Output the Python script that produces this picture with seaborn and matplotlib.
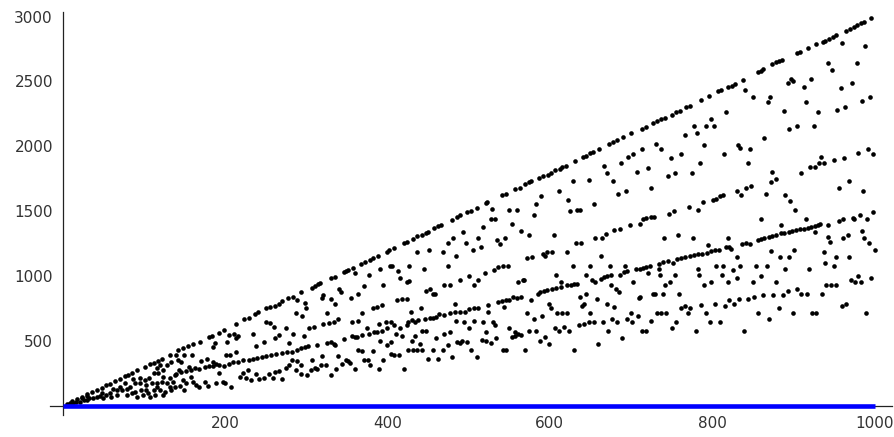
import matplotlib
matplotlib.use('Agg')
import matplotlib.pyplot as plt
import seaborn as sns
import pandas as pd
from matplotlib.ticker import MultipleLocator

# points on the top line (about 3n)
top_x = [12, 18, 24, 30, 36, 42, 48, 54, 58, 64, 71, 77, 81, 85, 92, 102, 108, 112, 117, 122, 132,
         142, 148, 154, 160, 169, 180, 184, 192, 199, 213, 224, 229, 237, 241, 250, 256, 261, 266, 270, 277,
         294, 307, 311, 315, 317, 331, 335, 346, 349, 352, 358, 367, 372, 378, 382, 388, 399, 402, 408, 420, 424,
         432, 437, 442, 447, 450, 457, 462, 466, 479, 486, 490, 498, 503, 510, 522, 523, 541, 546, 557, 563,
         570, 574, 577, 587, 592, 598, 602, 607, 613, 615, 620, 631, 641, 644, 649, 653, 660, 673, 678, 683, 690, 700,
         713, 718, 727, 732, 737, 742, 750, 755, 760, 768, 773, 786, 796, 807, 811, 820, 824, 828, 838,
         856, 860, 863, 874, 879, 882, 886, 905, 908, 918, 928, 936, 939, 944, 949, 952, 965, 970, 974, 978, 983, 987, 996]
top_y = [36, 54, 72, 90, 105, 124, 142, 160, 172, 190, 211, 229, 241, 253, 274, 303, 322, 334, 348, 364, 394,
         430, 448, 461, 474, 494, 528, 541, 564, 584, 628, 666, 679, 712, 725, 751, 763, 771, 789, 807, 828,
         874, 912, 927, 940, 950, 984, 997, 1030, 1040, 1048, 1066, 1094, 1112, 1125, 1138, 1155, 1189, 1202, 1220, 1253, 1266,
         1289, 1307, 1319, 1332, 1340, 1371, 1383, 1391, 1430, 1455, 1468, 1494, 1504, 1524, 1563, 1571, 1622, 1635, 1668, 1681,
         1712, 1724, 1732, 1758, 1768, 1781, 1793, 1814, 1827, 1840, 1852, 1886, 1916, 1927, 1947, 1960, 1980, 2019, 2032, 2045, 2070, 2101,
         2134, 2152, 2178, 2193, 2211, 2219, 2244, 2262, 2275, 2301, 2313, 2357, 2385, 2424, 2434, 2454, 2467, 2480, 2513,
         2570, 2583, 2595, 2634, 2647, 2654, 2665, 2716, 2726, 2754, 2785, 2803, 2813, 2828, 2844, 2857, 2890, 2905, 2916, 2933, 2949, 2954, 2987]

# n from 0 to 140
part1_x = [116, 120, 124, 129, 134, 112, 118, 124, 132, 138, 95, 101, 107, 89, 95, 103, 110, 116, 122, 128, 136,
           132, 138, 120, 126, 112, 103, 97, 89, 83, 79, 73, 67, 67, 58, 60, 54, 50, 46, 42, 38, 33, 30, 26, 21,
           17, 13, 9, 5, 24, 30, 79, 85, 91, 99, 105, 114, 116, 87, 71, 77, 62, 48, 108, 124, 134]
part1_y = [290, 315, 277, 315, 341, 251, 251, 225, 213, 238, 213, 200, 213, 174, 174, 161, 174, 179, 187, 174, 187,
           149, 149, 123, 110, 123, 123, 123, 110, 149, 128, 123, 123, 85, 97, 72, 85, 59, 77, 72, 59, 59, 46, 46, 33,
           33, 26, 21, 15, 59, 77, 85, 97, 72, 85, 97, 85, 149, 205, 149, 179, 128, 97, 67, 85, 123]

# n from 140 to 285
part2_x = [211, 235, 250, 255, 260, 275, 185, 205, 203, 214, 216, 238, 248, 262, 267, 279, 188, 150, 159, 201, 206,
           213, 140, 142, 146, 170, 178, 185, 189,
           140, 146, 152, 158, 163, 168, 175, 180, 185, 193, 199, 205, 210, 216, 222, 229, 235, 240, 245, 250, 257,
           263, 270, 276,
           143, 156, 158, 148, 152, 160, 164, 175, 179, 193, 197, 200, 207, 218, 222, 226, 228, 232, 238, 242, 248,
           254, 259, 262, 267, 270, 275, 279, 149, 168, 189, 145]
part2_y = [558, 551, 648, 640, 610, 597, 456, 546, 494, 520, 541, 461, 494, 525, 546, 482, 482, 392, 392, 392, 392,
           418, 392, 354, 341, 346, 361, 341, 320,
           243, 259, 269, 277, 290, 284, 302, 307, 307, 315, 307, 323, 336, 341, 354, 354, 361, 366, 379, 384, 392,
           397, 405, 418,
           277, 302, 225, 200, 174, 187, 161, 187, 156, 251, 187, 174, 149, 225, 251, 218, 277, 200, 243, 205, 213,
           243, 218, 259, 269, 205, 290, 315, 123, 149, 174, 156]

# n from 285 to 425
part3_x = [284, 289, 360, 391, 403, 406, 413, 377, 415, 424, 340, 343, 321, 319, 330, 355, 364, 395, 371, 299, 300,
           335, 287, 295, 326, 382, 387, 393, 412, 418, 424, 356, 364, 369, 321, 328, 334, 339, 303, 309, 284, 297,
           375, 390, 398, 404, 408, 415, 424,
           283, 289, 294, 299, 302, 313, 326, 330, 334, 346, 356, 360, 369, 377, 383, 387, 393, 399,
           362, 410, 418, 283, 289, 293, 307, 311, 320, 324, 336, 339, 344, 349, 352, 354, 364, 369, 371, 376, 382,
           379, 391, 395, 399, 405, 405, 408, 414, 287, 294, 301, 306, 313, 318, 331, 337, 360, 390, 420]
part3_y = [843, 817, 1022, 1056, 1079, 1079, 1040, 1009, 984, 958, 902, 881, 856, 835, 825, 835, 861, 933, 927, 792, 753,
           787, 715, 694, 715, 753, 766, 779, 817, 825, 825, 646, 656, 715, 633, 638, 643, 671, 600, 607, 553, 535,
           600, 630, 646, 646, 625, 600, 625,
           415, 428, 446, 451, 459, 466, 484, 492, 477, 518, 535, 530, 543, 553, 569, 569, 574, 600,
           528, 553, 535, 356, 343, 318, 356, 292, 382, 318, 471, 382, 323, 356, 343, 330, 433, 425, 356, 356, 420,
           318, 502, 356, 471, 489, 400, 389, 389, 279, 249, 241, 279, 284, 318, 241, 284, 284, 284, 284]

# n from 425 to 570
part4_x = [529, 550, 559, 527, 533, 518, 493, 553, 565, 481, 474, 497, 511, 535, 539, 545, 515, 505, 437, 451, 468,
           485, 427, 445, 475,
           520, 531, 536, 542, 548, 561, 567, 427, 470, 477, 489, 501, 507, 512, 447, 453, 456, 459,
           425, 430, 434, 438, 446, 452, 456, 460, 464, 470, 477, 483, 489, 495, 501, 507, 512, 524, 536, 541, 546,
           550, 555, 559, 564,
           483, 441, 544, 524, 429, 484, 494, 507, 518, 530, 533, 500, 521, 477, 470, 460, 442, 447, 434, 430, 440,
           486, 489, 492, 498, 475, 516, 522, 527, 534, 550, 557, 561, 553, 557, 565, 425, 432, 437, 442, 456, 468,
           503, 542, 546, 450, 462, 480, 510]
part4_y = [1519, 1511, 1511, 1437, 1437, 1378, 1340, 1404, 1345, 1294, 1258, 1258, 1296, 1276, 1250, 1296, 1225, 1199, 1186, 1199, 1186,
           1153, 1079, 1053, 1079,
           1027, 1045, 1071, 1079, 1079, 955, 968, 961, 935, 935, 968, 999, 935, 968, 884, 899, 866, 866,
           648, 661, 648, 661, 669, 674, 679, 687, 705, 699, 717, 720, 720, 720, 745, 756, 758, 776, 797, 807, 815,
           815, 840, 833, 840,
           789, 756, 763, 720, 725, 656, 648, 656, 648, 648, 627, 597, 571, 571, 551, 525, 576, 576, 540, 502, 476,
           494, 481, 502, 494, 469, 507, 502, 481, 525, 597, 571, 558, 528, 538, 546, 430, 430, 430, 430, 430, 430,
           430, 430, 430, 359, 359, 379, 379]

# n from 570 to 710
part5_x = [667, 671, 688, 696, 703, 707, 629, 648, 678, 611, 589, 684, 694, 583, 581, 623, 625, 634, 637, 654, 574,
           605, 632, 639,
           656, 664, 669, 679, 687, 699, 572, 578, 591, 594, 597, 603, 621, 663,
           585, 588, 593, 597, 603, 608, 614, 621, 626, 630, 634, 645, 652, 656, 663, 667, 671, 675, 687, 691, 695, 706,
           628, 650, 674, 693, 608, 568, 703, 710, 614, 675, 681, 685, 577, 599, 601, 637, 644, 642, 640, 658, 670,
           679, 572, 609, 615, 621, 650, 580, 590, 636, 642, 648, 654, 666, 677, 683, 695, 700, 701, 708, 574, 583,
           606, 611, 617, 624, 672, 588, 594, 599, 570, 630, 659, 689]
part5_y = [1852, 1796, 1870, 1916, 1942, 1801, 1729, 1737, 1729, 1655, 1617, 1630, 1655, 1558, 1473, 1583, 1501, 1512, 1512, 1558, 1314,
           1314, 1255, 1255,
           1294, 1294, 1327, 1353, 1366, 1391, 1143, 1148, 1173, 1153, 1186, 1186, 1186, 1153,
           866, 879, 884, 892, 897, 905, 917, 930, 935, 938, 943, 1007, 968, 956, 981, 994, 999, 1007, 1007, 1033, 1040, 1058,
           1079, 1079, 1079, 1079, 1007, 974, 956, 835, 951, 935, 897, 879, 815, 789, 756, 840, 861, 789, 769, 822, 789,
           763, 717, 717, 717, 717, 717, 668, 694, 622, 635, 648, 648, 648, 668, 648, 668, 717, 648, 694, 576, 576,
           597, 576, 610, 576, 576, 502, 533, 477, 430, 430, 477, 525]

# n from 710 to 855
part6_x = [840, 850, 817, 778, 798, 792, 802, 766, 781, 731, 737, 713, 790, 832, 834, 846, 762, 749, 814, 721, 785,
           844, 745, 754, 775, 725,
           711, 715, 719, 724, 728, 747, 753, 771, 783, 789, 801, 805, 809, 813, 830, 836, 841, 848,
           741, 758, 776, 819, 795, 817, 823, 830,
           711, 715, 719, 723, 734, 740, 746, 752, 757, 762, 766, 773, 777, 782, 788, 793, 798, 803, 808, 821, 837,
           842, 847,
           721, 735, 736, 742, 748, 754, 782, 784, 790, 799, 805, 813, 812, 820, 826, 830, 834, 850, 854, 711, 727,
           729, 740, 759, 732, 737, 743, 725, 761, 766, 773, 770, 786, 792, 803, 816, 821, 827, 833, 844, 852, 755,
           750, 797, 809, 713, 719, 780, 839]
part6_y = [2436, 2378, 2267, 2160, 2211, 2160, 2160, 2088, 2101, 2019, 1980, 1980, 2014, 2014, 1988, 1980, 1942, 1909, 1942, 1834, 1870,
           1870, 1775, 1796, 1796, 1678,
           1404, 1437, 1448, 1455, 1455, 1476, 1499, 1532, 1512, 1571, 1583, 1596, 1614, 1622, 1653, 1622, 1678, 1691,
           1294, 1314, 1294, 1294, 1243, 1225, 1207, 1148,
           1053, 1063, 1071, 1076, 1097, 1109, 1114, 1104, 1135, 1140, 1148, 1155, 1161, 1173, 1173, 1181, 1194, 1199, 1199, 1225, 1250,
           1255, 1250,
           1025, 1058, 1007, 930, 956, 1007, 1058, 1007, 930, 956, 1079, 1079, 1007, 956, 1045, 986, 1079, 956, 1079, 840, 861,
           861, 861, 861, 717, 717, 717, 656, 751, 769, 751, 717, 776, 717, 789, 769, 815, 789, 827, 827, 840, 648,
           597, 648, 648, 576, 576, 576, 576]

# n from 855 to 1000
part7_x = [960, 988, 942, 948, 978, 893, 897, 899, 913, 922, 959, 972, 871, 869, 916, 889, 930, 954, 964, 984, 994,
           894, 904, 925, 864,
           934, 931, 920, 926, 938, 950, 962, 980, 992, 998, 909, 874, 872, 879, 866, 890, 896, 902, 956, 968, 986,
           860, 885, 915, 942, 956, 961, 973, 975, 982, 991, 998,
           856, 860, 864, 870, 874, 878, 885, 889, 894, 898, 903, 908, 913, 918, 922, 926, 930, 933, 927,
           943, 945, 961, 967, 985, 987, 993, 1000, 872, 883, 895, 901, 938, 952, 969, 939, 950, 868, 890, 919,
           860, 879, 940, 946, 952, 971, 976, 979, 983, 995, 863, 875, 887, 893, 905, 909, 917, 935, 857, 870,
           882, 899, 923, 928, 960, 965, 989]
part7_y = [2793, 2775, 2641, 2590, 2641, 2485, 2518, 2500, 2459, 2518, 2447, 2485, 2378, 2339, 2344, 2270, 2267, 2280, 2301, 2352, 2378,
           2134, 2160, 2160, 2062,
           1916, 1870, 1840, 1840, 1870, 1896, 1909, 1947, 1980, 1942, 1796, 1801, 1724, 1750, 1635, 1622, 1578, 1512, 1678, 1729, 1655,
           1437, 1391, 1437, 1391, 1424, 1437, 1450, 1437, 1473, 1437, 1494,
           1281, 1289, 1294, 1301, 1309, 1314, 1332, 1335, 1342, 1348, 1353, 1360, 1366, 1373, 1378, 1383, 1396, 1404, 1340,
           1301, 1263, 1294, 1314, 1345, 1294, 1258, 1199, 1191, 1148, 1148, 1199, 1186, 1148, 1148, 1104, 1076, 1076, 1056, 1056,
           1002, 956, 935, 935, 935, 974, 956, 1002, 956, 986, 858, 858, 858, 886, 899, 861, 861, 861, 717, 669,
           756, 717, 717, 717, 769, 789, 717]

# the blue series along zero
zero_x = [0, 1000]
zero_y = [0, 0]

xs = top_x + part1_x + part2_x + part3_x + part4_x + part5_x + part6_x + part7_x
ys = top_y + part1_y + part2_y + part3_y + part4_y + part5_y + part6_y + part7_y
df = pd.DataFrame({'n': xs, 'a': ys})

sns.set_style('white')
plt.rcParams['font.family'] = ['DejaVu Sans']

fig = plt.figure(figsize=(8.94, 4.37), dpi=100)
ax = fig.add_axes([0.0555, 0.0503, 0.9428, 0.9229])

sns.scatterplot(data=df, x='n', y='a', color='black', s=11, linewidth=0, ax=ax, legend=False, zorder=2)
ax.plot(zero_x, zero_y, color='#0000ff', lw=3.3, solid_capstyle='butt', zorder=3)

ax.set_xlim(-16, 1022)
ax.set_ylim(-70, 3037)
ax.spines['left'].set_position(('data', 0))
ax.spines['bottom'].set_position(('data', 0))
ax.spines['right'].set_visible(False)
ax.spines['top'].set_visible(False)
for s in ['left', 'bottom']:
    ax.spines[s].set_color('#222222')
    ax.spines[s].set_linewidth(0.9)

ax.set_xticks([200, 400, 600, 800, 1000])
ax.set_yticks([500, 1000, 1500, 2000, 2500, 3000])
ax.xaxis.set_minor_locator(MultipleLocator(50))
ax.yaxis.set_minor_locator(MultipleLocator(100))
ax.tick_params(which='major', direction='out', length=4, width=0.9, color='#333333',
               labelsize=11, labelcolor='#333333', pad=3)
ax.tick_params(which='minor', direction='out', length=2, width=0.7, color='#333333')
ax.set_xlabel('')
ax.set_ylabel('')

fig.savefig('out.png', dpi=100)
